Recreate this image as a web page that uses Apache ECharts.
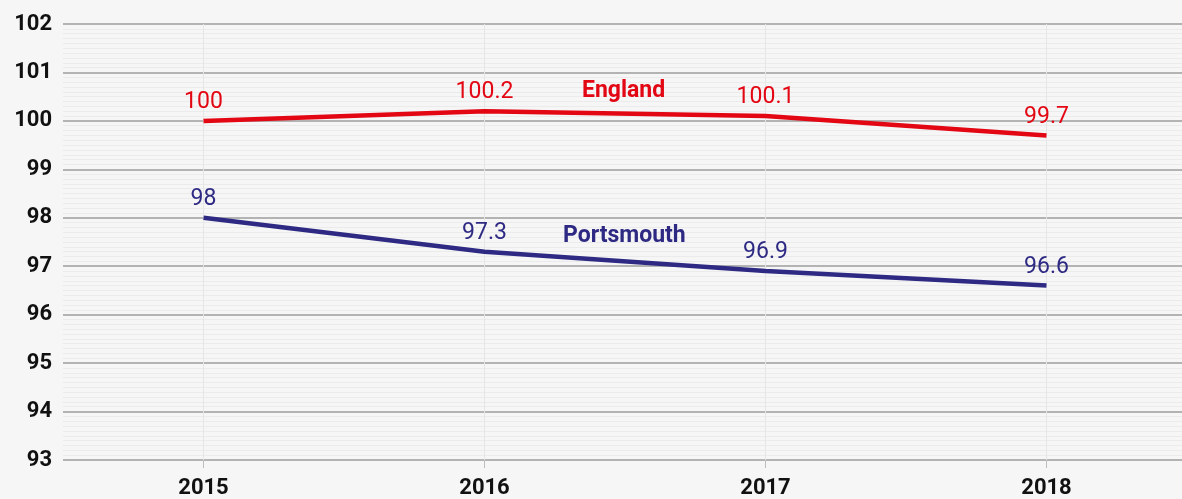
<!DOCTYPE html>
<html>
<head>
<meta charset="utf-8">
<script src="https://cdn.jsdelivr.net/npm/echarts@6/dist/echarts.min.js"></script>
<style>
  html, body { margin: 0; padding: 0; background: #f6f6f6; }
  #chart { width: 1182px; height: 499px; }
</style>
</head>
<body>
<div id="chart"></div>
<script>
// chart data
const years = ['2015', '2016', '2017', '2018'];
const england = [100, 100.2, 100.1, 99.7];
const portsmouth = [98, 97.3, 96.9, 96.6];

const RED = '#e30613';
const PURPLE = '#2e2a84';
const FONT = 'Roboto';

const chart = echarts.init(document.getElementById('chart'));

chart.setOption({
  backgroundColor: '#f6f6f6',
  animation: false,
  grid: { left: 63, width: 1124, top: 24, bottom: 39, containLabel: false, outerBoundsMode: 'none' },
  xAxis: {
    type: 'category',
    data: years,
    boundaryGap: true,
    axisLine: { show: false },
    axisTick: { show: true, alignWithLabel: true, length: 8, lineStyle: { color: '#bdbdbd', width: 1 } },
    splitLine: { show: true, alignWithLabel: true, lineStyle: { color: '#e6e6e6', width: 1 } },
    axisLabel: { color: '#111', fontFamily: FONT, fontWeight: 'bold', fontSize: 22, margin: 17 },
  },
  yAxis: {
    type: 'value',
    min: 93,
    max: 102,
    interval: 1,
    axisLine: { show: false },
    axisTick: { show: false },
    axisLabel: { color: '#111', fontFamily: FONT, fontWeight: 'bold', fontSize: 22, margin: 11 },
    splitLine: { show: true, lineStyle: { color: '#b3b3b3', width: 2 } },
    minorTick: { show: false, splitNumber: 10 },
    minorSplitLine: { show: true, lineStyle: { color: '#ebebeb', width: 1 } },
  },
  series: [
    {
      name: 'England',
      type: 'line',
      data: england,
      symbol: 'circle',
      symbolSize: 0,
      showSymbol: true,
      lineStyle: { color: RED, width: 4.5 },
      itemStyle: { color: RED },
      label: { show: true, position: 'top', distance: 7, color: RED, fontFamily: FONT, fontSize: 23 },
      z: 3,
    },
    {
      name: 'Portsmouth',
      type: 'line',
      data: portsmouth,
      symbol: 'circle',
      symbolSize: 0,
      showSymbol: true,
      lineStyle: { color: PURPLE, width: 4.5 },
      itemStyle: { color: PURPLE },
      label: { show: true, position: 'top', distance: 7, color: PURPLE, fontFamily: FONT, fontSize: 23 },
      z: 3,
    },
  ],
  graphic: [
    {
      type: 'text', left: 582, top: 80, z: 100,
      style: { text: 'England', fill: RED, font: 'bold 23px ' + FONT },
    },
    {
      type: 'text', left: 563, top: 225, z: 100,
      style: { text: 'Portsmouth', fill: PURPLE, font: 'bold 23px ' + FONT },
    },
  ],
});
</script>
</body>
</html>
